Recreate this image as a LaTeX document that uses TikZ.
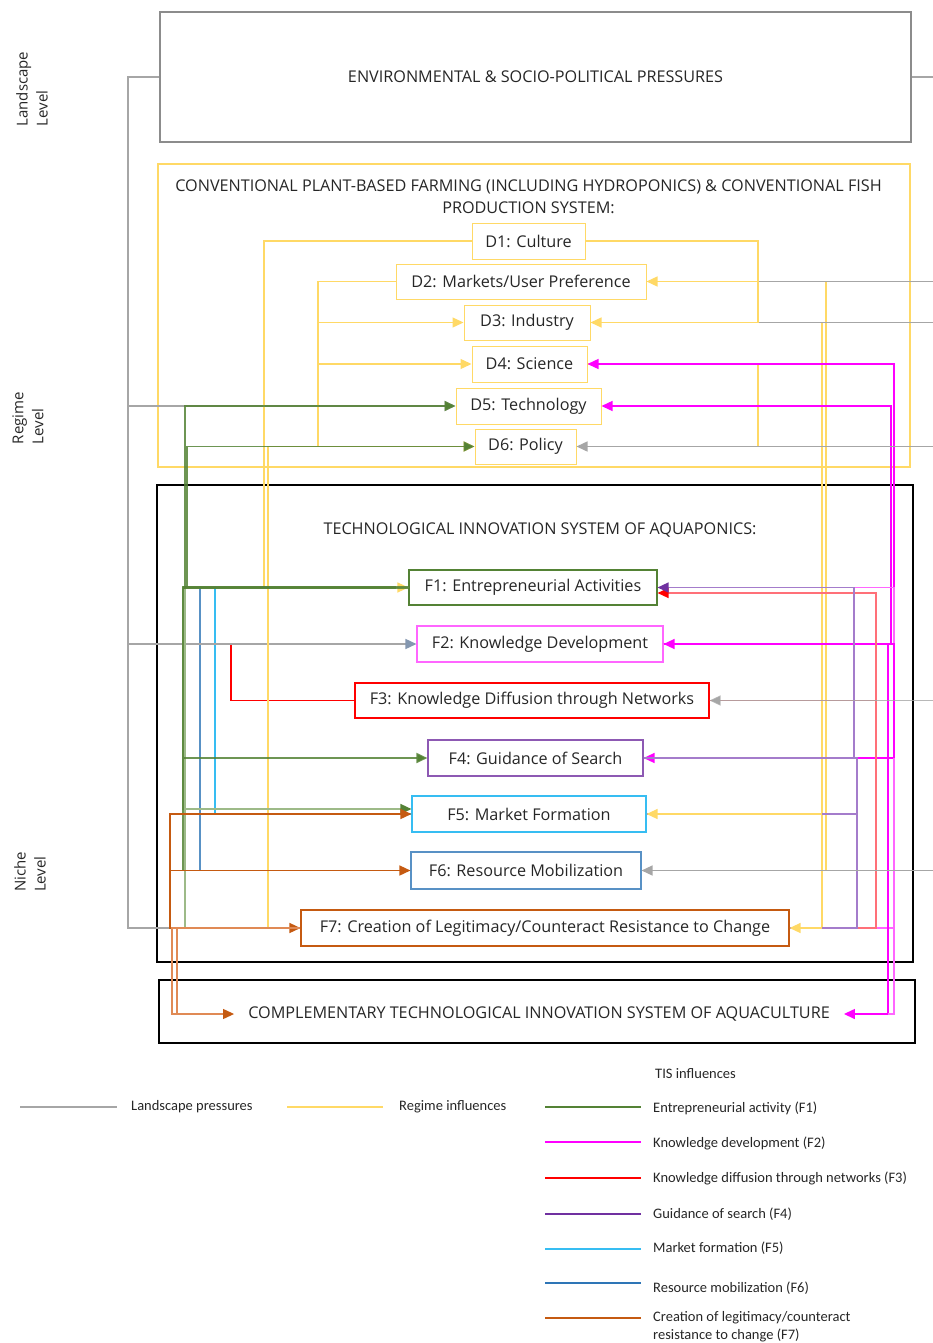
\documentclass[tikz,border=0pt]{standalone}
\usepackage{fontspec}
\setmainfont{Open Sans}
\newfontfamily\legfont{Carlito}
\usetikzlibrary{arrows.meta,calc}
\definecolor{cgray}{HTML}{A6A6A6}
\definecolor{cgrayD}{HTML}{8C8C8C}
\definecolor{cgrayB}{HTML}{8497B0}
\definecolor{cylw}{HTML}{FFD966}
\definecolor{cgrn}{HTML}{548235}
\definecolor{cgrnL}{HTML}{9DBA88}
\definecolor{cmag}{HTML}{FF00FF}
\definecolor{cmagL}{HTML}{FF66FF}
\definecolor{cred}{HTML}{FF0000}
\definecolor{credL}{HTML}{FF7078}
\definecolor{cpur}{HTML}{7030A0}
\definecolor{cpurL}{HTML}{A47CCB}
\definecolor{ccyan}{HTML}{36BDF2}
\definecolor{cblue}{HTML}{2E75B6}
\definecolor{corg}{HTML}{C55A11}
\definecolor{corgL}{HTML}{E08A55}
\tikzset{
  arr/.style={-{Triangle[length=11pt,width=10pt]}},
  arrc/.style={-{Triangle[length=11pt,width=10pt,color=#1]}},
  txt/.style={font=\fontsize{16.2}{22}\selectfont, text=black!85},
  bigbox/.style={line width=2pt, inner sep=0pt},
  dbox/.style={txt, draw=cylw, line width=1pt, inner sep=0pt},
  fbox/.style={txt, line width=1.1pt, inner sep=0pt},
  lvl/.style={font=\fontsize{15}{20}\selectfont, rotate=90, align=left, text=black!85},
  leg/.style={font=\legfont\fontsize{14.5}{18}\selectfont, anchor=west, inner sep=0pt, text=black!85},
  legline/.style={line width=2.2pt},
  gry/.style={draw=cgray, line width=1.5pt},
  ylw/.style={draw=cylw, line width=1.3pt},
  grn/.style={draw=cgrn, line width=1.8pt, draw opacity=0.85},
  grnL/.style={draw=cgrnL, line width=1.5pt},
  mag/.style={draw=cmag, line width=1.4pt},
  magL/.style={draw=cmagL, line width=1.4pt},
  redl/.style={draw=credL, line width=1.4pt},
  redd/.style={draw=cred, line width=1.2pt},
  pur/.style={draw=cpurL, line width=1.5pt},
  blu/.style={draw=cblue, line width=1.5pt, draw opacity=0.8},
  cya/.style={draw=ccyan, line width=1.3pt},
  org/.style={draw=corg, line width=1.5pt},
  orgL/.style={draw=corgL, line width=1.2pt},
}
\begin{document}
\begin{tikzpicture}[x=1pt,y=-1pt]
\useasboundingbox (0,0) rectangle (933,1343);

% ---------- big boxes ----------
\node[bigbox, draw=cgrayD, txt, minimum width=751, minimum height=130] (ENV) at (535.5,77) {ENVIRONMENTAL \& SOCIO-POLITICAL PRESSURES};
\node[bigbox, draw=cylw, minimum width=752, minimum height=303] (REG) at (534,315.5) {};
\node[txt, align=center, inner sep=0pt] (REGt) at (528.5,197) {CONVENTIONAL PLANT-BASED FARMING (INCLUDING HYDROPONICS) \& CONVENTIONAL FISH\\PRODUCTION SYSTEM:};
\node[bigbox, draw=black, minimum width=756, minimum height=477] (TIS) at (535,723.5) {};
\node[txt, inner sep=0pt] (TISt) at (540,530) {TECHNOLOGICAL INNOVATION SYSTEM OF AQUAPONICS:};
\node[bigbox, draw=black, minimum width=756, minimum height=63] (COMP) at (537,1011.5) {};
\node[txt, inner ysep=0pt, inner xsep=14pt] (COMPt) at (539,1014) {COMPLEMENTARY TECHNOLOGICAL INNOVATION SYSTEM OF AQUACULTURE};

% ---------- level labels ----------
\node[lvl] (LL) at (32,89) {Landscape\\Level};
\node[lvl] (RL) at (28,418) {Regime\\Level};
\node[lvl] (NL) at (30,872) {Niche\\Level};

% ---------- regime dimensions ----------
\node[dbox, minimum width=113, minimum height=36] (D1) at (528.5,241) {D1: Culture};
\node[dbox, minimum width=250, minimum height=35] (D2) at (521,281.5) {D2: Markets/User Preference};
\node[dbox, minimum width=126, minimum height=35] (D3) at (527,322.5) {D3: Industry};
\node[dbox, minimum width=115, minimum height=36] (D4) at (529.5,364) {D4: Science};
\node[dbox, minimum width=145, minimum height=36] (D5) at (528.5,406) {D5: Technology};
\node[dbox, minimum width=101, minimum height=35] (D6) at (525.5,446.5) {D6: Policy};

% ---------- TIS functions ----------
\node[fbox, draw=cgrn, minimum width=248, minimum height=35] (F1) at (533,587.5) {F1: Entrepreneurial Activities};
\node[fbox, draw=cmagL, minimum width=246, minimum height=36] (F2) at (540,644) {F2: Knowledge Development};
\node[fbox, draw=cred, minimum width=354, minimum height=35] (F3) at (532,700.5) {F3: Knowledge Diffusion through Networks};
\node[fbox, draw=cpur!80, minimum width=215, minimum height=36] (F4) at (535.5,758) {F4: Guidance of Search};
\node[fbox, draw=ccyan, minimum width=234, minimum height=36] (F5) at (529,814) {F5: Market Formation};
\node[fbox, draw=cblue!80, minimum width=230, minimum height=37] (F6) at (526,870.5) {F6: Resource Mobilization};
\node[fbox, draw=corg, minimum width=488, minimum height=36] (F7) at (545,928) {F7: Creation of Legitimacy/Counteract Resistance to Change};

% ---------- bus positions ----------
\coordinate (xG) at (128,0);
\coordinate (xY1) at (264,0);
\coordinate (xY1b) at (268,0);
\coordinate (xY2) at (318,0);
\coordinate (xY3) at (758,0);
\coordinate (xY4) at (826,0);
\coordinate (xY5) at (822,0);
\coordinate (xGa) at (185,0);
\coordinate (xGb) at (187,0);
\coordinate (xGc) at (183,0);
\coordinate (xB1) at (200,0);
\coordinate (xB2) at (215,0);
\coordinate (xR1) at (231,0);
\coordinate (xR2) at (876,0);
\coordinate (xP1) at (854,0);
\coordinate (xP2) at (857,0);
\coordinate (xM1) at (894,0);
\coordinate (xM2) at (891,0);
\coordinate (xM3) at (888,0);
\coordinate (xO1) at (170,0);
\coordinate (xO2) at (172,0);
\coordinate (xO3) at (177,0);
\coordinate (xE) at (933,0);
\coordinate (eR1) at (933,77);
\coordinate (F1r) at ($(F1.east)+(0,5.5)$);
\coordinate (F5g) at ($(F5.west)+(0,-5)$);

% ---------- yellow (under) ----------
\draw[ylw] (D2.east) -| (xY4 |- F6.east) -- (F6.east);
\draw[ylw] (D3.east) -| (xY5 |- F7.east);
\draw[ylw] (D4.east) -| (xY3 |- D6.east) -- (D6.east);

% ---------- blue / cyan ----------
\draw[blu] (F6.west) -| (xB1 |- F1.west) -- (F1.west);
\draw[cya] (F5.west) -| (xB2 |- F1.west) -- (F1.west);

% ---------- magenta ----------
\draw[mag,arr] (F2.east) -| (xM1 |- D4.east) -- (D4.east);
\draw[mag,arr] (F2.east) -| (xM2 |- D5.east) -- (D5.east);
\draw[magL] (xM1 |- F2.east) -- (xM1 |- F1.east) -- (F1.east);
\draw[mag,arr] (F2.east) -| (xM1 |- F4.east) -- (F4.east);
\draw[magL] (xM1 |- F4.east) -- (xM1 |- F7.east) -- (F7.east);
\draw[mag,arr] (F2.east) -| (xM3 |- COMPt.east) -- (COMPt.east);
\draw[magL] (xM1 |- F7.east) -- (xM1 |- COMPt.east) -- (xM3 |- COMPt.east);
\draw[mag,arr] (xM1 |- F2.east) -- (F2.east);

% ---------- red ----------
\draw[redd] (F3.west) -| (xR1 |- F2.west);
\draw[redl,arrc=cred] (F3.east) -| (xR2 |- F1r) -- (F1r);
\draw[redl] (xR2 |- F3.east) -- (xR2 |- F7.east) -- (F7.east);

% ---------- purple ----------
\draw[pur,arrc=cpur] (F4.east) -| (xP1 |- F1.east) -- (F1.east);
\draw[pur] (F4.east) -| (xP2 |- F5.east) -- (F5.east);
\draw[pur] (xP2 |- F5.east) -- (xP2 |- F7.east) -- (F7.east);

% ---------- gray (landscape) ----------
\draw[gry] (ENV.west) -| (xG |- F7.west) -- (F7.west);
\draw[gry,arr] (xG |- D5.west) -- (D5.west);
\draw[gry,arrc=cgrayB] (xG |- F2.west) -- (F2.west);
\draw[gry] (ENV.east) -- (eR1);
\draw[gry] (xE |- D2.east) -- (D2.east);
\draw[gry] (xE |- D3.east) -- (D3.east);
\draw[gry,arr] (xE |- D6.east) -- (D6.east);
\draw[gry,arr,draw opacity=0.8] (xE |- F3.east) -- (F3.east);
\draw[gry,arr] (xE |- F6.east) -- (F6.east);

% ---------- yellow (regime, on top) ----------
\draw[ylw,arr] (D1.east) -| (xY3 |- D3.east) -- (D3.east);
\draw[ylw,arr] (xY3 |- D2.east) -- (D2.east);
\draw[ylw,arr] (D2.west) -| (xY2 |- D6.west) -- (D6.west);
\draw[ylw,arr] (xY2 |- D3.west) -- (D3.west);
\draw[ylw,arr] (xY2 |- D4.west) -- (D4.west);
\draw[ylw] (xY2 |- D6.west) -| (xY1b |- F7.west) -- (F7.west);
\draw[ylw,arr] (D1.west) -| (xY1 |- F1.west) -- (F1.west);

% ---------- green ----------
\draw[grnL] (F1.west) -| (xGa |- F7.west) -- (F7.west);
\draw[grn,arrc=cgrn] (F1.west) -| (xGa |- D5.west) -- (D5.west);
\draw[grn,arrc=cgrn] (F1.west) -| (xGb |- D6.west) -- (D6.west);
\draw[grn,arrc=cgrn] (F1.west) -| (xGc |- F4.west) -- (F4.west);
\draw[grnL,arrc=cgrn] (F1.west) -| (xGc |- F5g) -- (F5g);
\draw[grn, line width=2.4pt] (F1.west) -| (xGc |- F6.west);
\draw[grn] (xGc |- F6.west) -- (xB1 |- F6.west);
\draw[draw=cgrn, line width=2.6pt, draw opacity=0.8] ($(F1.west)+(-12,0)$) -- (xGc |- F1.west);

% ---------- orange ----------
\draw[org,arr] (F7.west) -| (xO1 |- F5.west) -- (F5.west);
\draw[org,arr] (xO1 |- F6.west) -- (F6.west);
\draw[org,arr] (xO1 |- F7.west) -- (F7.west);
\draw[orgL,arrc=corg] (F7.west) -| (xO2 |- COMPt.west) -- (COMPt.west);
\draw[orgL] (xO3 |- F7.west) -- (xO3 |- COMPt.west);

% ---------- yellow arrows on right ----------
\draw[ylw,arr] (xY5 |- F5.east) -- (F5.east);
\draw[ylw,arr] (xY5 |- F7.east) -- (F7.east);

% ---------- legend ----------
\node[leg] (Ltis) at (655,1074) {TIS influences};
\coordinate (la1) at (20,1107);  \coordinate (lb1) at (117,1107);
\coordinate (la2) at (287,1107); \coordinate (lb2) at (383,1107);
\draw[legline, draw=cgray] (la1) -- (lb1);
\node[leg] (L1) at (131,1107) {Landscape pressures};
\draw[legline, draw=cylw] (la2) -- (lb2);
\node[leg] (L2) at (399,1107) {Regime influences};
\foreach \y/\c [count=\i] in {1107/cgrn, 1142/cmag, 1178/cred, 1214/cpur, 1249/ccyan, 1283/cblue}{
  \coordinate (lfa\i) at (545,\y);
  \coordinate (lfb\i) at (641,\y);
  \draw[legline, draw=\c] (lfa\i) -- (lfb\i);
}
\node[leg] (T1) at (653,1108) {Entrepreneurial activity (F1)};
\node[leg] (T2) at (653,1143) {Knowledge development (F2)};
\node[leg] (T3) at (653,1178) {Knowledge diffusion through networks (F3)};
\node[leg] (T4) at (653,1214) {Guidance of search (F4)};
\node[leg] (T5) at (653,1248) {Market formation (F5)};
\node[leg] (T6) at (653,1288) {Resource mobilization (F6)};
\coordinate (lfa7) at (545,1318); \coordinate (lfb7) at (641,1318);
\draw[legline, draw=corg] (lfa7) -- (lfb7);
\node[leg, align=left] (T7) at (653,1327) {Creation of legitimacy/counteract\\resistance to change (F7)};
\end{tikzpicture}
\end{document}
